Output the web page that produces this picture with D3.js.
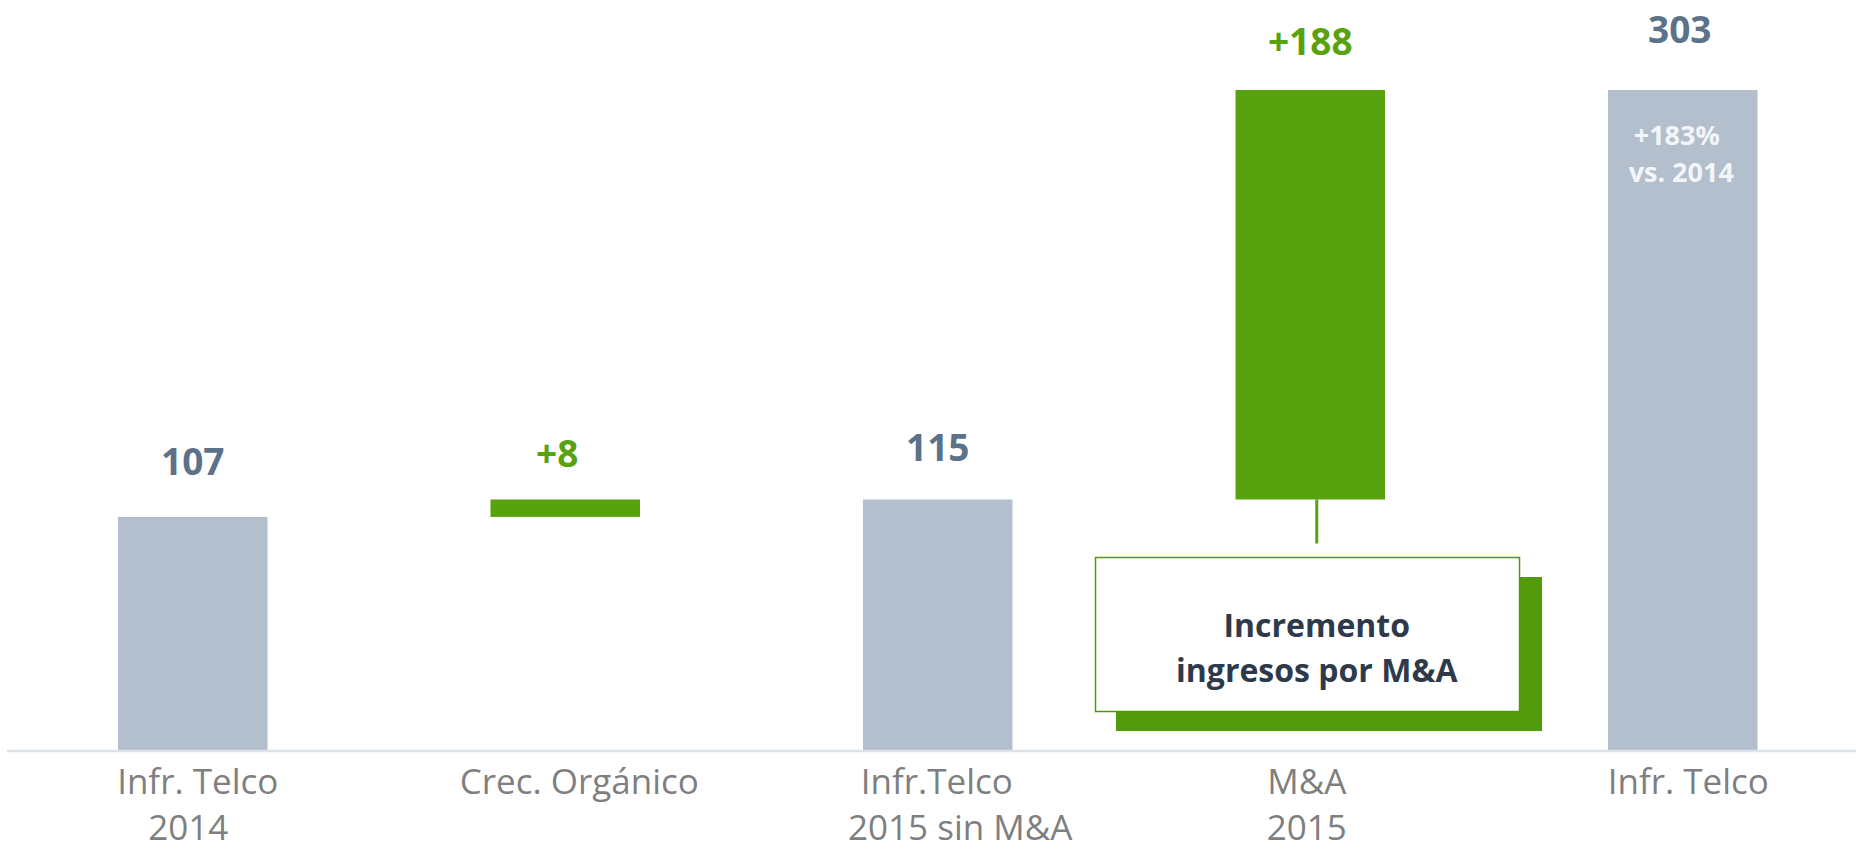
<!DOCTYPE html>
<html>
<head>
<meta charset="utf-8">
<script src="https://cdn.jsdelivr.net/npm/d3@7"></script>
<style>
  html, body { margin: 0; padding: 0; background: #ffffff; }
  svg { display: block; }
</style>
</head>
<body>
<svg id="chart" width="1856" height="851"></svg>
<script>
// ---- data ----
const categories = ["Infr. Telco 2014", "Crec. Orgánico", "Infr.Telco 2015 sin M&A", "M&A 2015", "Infr. Telco"];
const categoryLines = [["Infr. Telco", "2014"], ["Crec. Orgánico"], ["Infr.Telco", "2015 sin M&A"], ["M&A", "2015"], ["Infr. Telco"]];
const values = [107, 8, 115, 188, 303];
const kinds = ["total", "delta", "total", "delta", "total"];
const growthNote = ["+183%", "vs. 2014"];
const calloutLines = ["Incremento", "ingresos por M&A"];

// ---- layout (not data) ----
const W = 1856, H = 851;
const baseY = 750, topY = 90;
const labelGap = [42, 33, 39, 35, 47];
const labelDx = [0, -8, 0, 0, -3];
const catDx = [[5, -4.5], [14], [-1, 22.5], [-3.5, -3.5], [5.5]];

const colors = {
  total: "#b3bfcd",
  delta: "#58a20e",
  totalLabel: "#5b7289",
  deltaLabel: "#58a20e",
  axis: "#dde3ea",
  cat: "#7f7f7f",
  shadow: "#52990b",
  border: "#4f9a0a",
  calloutText: "#2e3a4a"
};

// ---- compute waterfall ----
let running = 0;
const rows = categories.map((c, i) => {
  let lo, hi;
  if (kinds[i] === "total") { lo = 0; hi = values[i]; running = values[i]; }
  else { lo = running; hi = running + values[i]; running = hi; }
  return { cat: c, i, kind: kinds[i], value: values[i], lo, hi };
});

const svg = d3.select("#chart");

const x = d3.scaleBand()
  .domain(categories)
  .range([6.5, 1869])
  .paddingInner(0.5987)
  .paddingOuter(0.2993);

const y = d3.scaleLinear()
  .domain([0, d3.max(rows, r => r.hi)])
  .range([baseY, topY]);

// bars
svg.append("g").selectAll("rect")
  .data(rows)
  .join("rect")
  .attr("x", d => x(d.cat))
  .attr("width", x.bandwidth())
  .attr("y", d => y(d.hi))
  .attr("height", d => y(d.lo) - y(d.hi))
  .attr("fill", d => d.kind === "total" ? colors.total : colors.delta);

// axis baseline
const xAxis = d3.axisBottom(x).tickSize(0).tickFormat("");
const axisG = svg.append("g").attr("transform", `translate(0,${baseY + 1})`).call(xAxis);
axisG.select(".domain").attr("d", `M7,0H${W}`).attr("stroke", colors.axis).attr("stroke-width", 2.5);

// value labels
svg.append("g").selectAll("text")
  .data(rows)
  .join("text")
  .attr("x", d => x(d.cat) + x.bandwidth() / 2 + labelDx[d.i])
  .attr("y", d => y(d.hi) - labelGap[d.i])
  .attr("text-anchor", "middle")
  .attr("font-family", "'Open Sans', sans-serif")
  .attr("font-weight", 700)
  .attr("font-size", 37)
  .attr("fill", d => d.kind === "total" ? colors.totalLabel : colors.deltaLabel)
  .text(d => d.kind === "delta" ? "+" + d.value : String(d.value));

// category labels
const catG = svg.append("g");
rows.forEach(d => {
  const cx = x(d.cat) + x.bandwidth() / 2;
  categoryLines[d.i].forEach((line, j) => {
    catG.append("text")
      .attr("x", cx + catDx[d.i][j])
      .attr("y", 794 + j * 46)
      .attr("text-anchor", "middle")
      .attr("font-family", "'Open Sans', sans-serif")
      .attr("font-size", 35)
      .attr("fill", colors.cat)
      .text(line);
  });
});

// growth note inside last bar
const last = rows[rows.length - 1];
const lastCx = x(last.cat) + x.bandwidth() / 2;
const noteDx = [-6, -1.5];
growthNote.forEach((t, j) => {
  svg.append("text")
    .attr("x", lastCx + noteDx[j])
    .attr("y", y(last.hi) + 55 + j * 37)
    .attr("text-anchor", "middle")
    .attr("font-family", "'Open Sans', sans-serif")
    .attr("font-weight", 700)
    .attr("font-size", 27)
    .attr("fill", "#f3f5f8")
    .text(t);
});

// callout for M&A
const ma = rows[3];
const maCx = x(ma.cat) + x.bandwidth() / 2;
const callG = svg.append("g");
callG.append("line")
  .attr("x1", maCx + 6.5).attr("x2", maCx + 6.5)
  .attr("y1", y(ma.lo)).attr("y2", y(ma.lo) + 44)
  .attr("stroke", colors.delta).attr("stroke-width", 3);
callG.append("rect")
  .attr("x", 1116).attr("y", 577).attr("width", 426).attr("height", 154)
  .attr("fill", colors.shadow);
callG.append("rect")
  .attr("x", 1095.5).attr("y", 557.5).attr("width", 424).attr("height", 154)
  .attr("fill", "#ffffff").attr("stroke", colors.border).attr("stroke-width", 1.5);
calloutLines.forEach((t, j) => {
  callG.append("text")
    .attr("x", maCx + 6.5)
    .attr("y", 637 + j * 45)
    .attr("text-anchor", "middle")
    .attr("font-family", "'Open Sans', sans-serif")
    .attr("font-weight", 700)
    .attr("font-size", 32)
    .attr("fill", colors.calloutText)
    .text(t);
});
</script>
</body>
</html>
